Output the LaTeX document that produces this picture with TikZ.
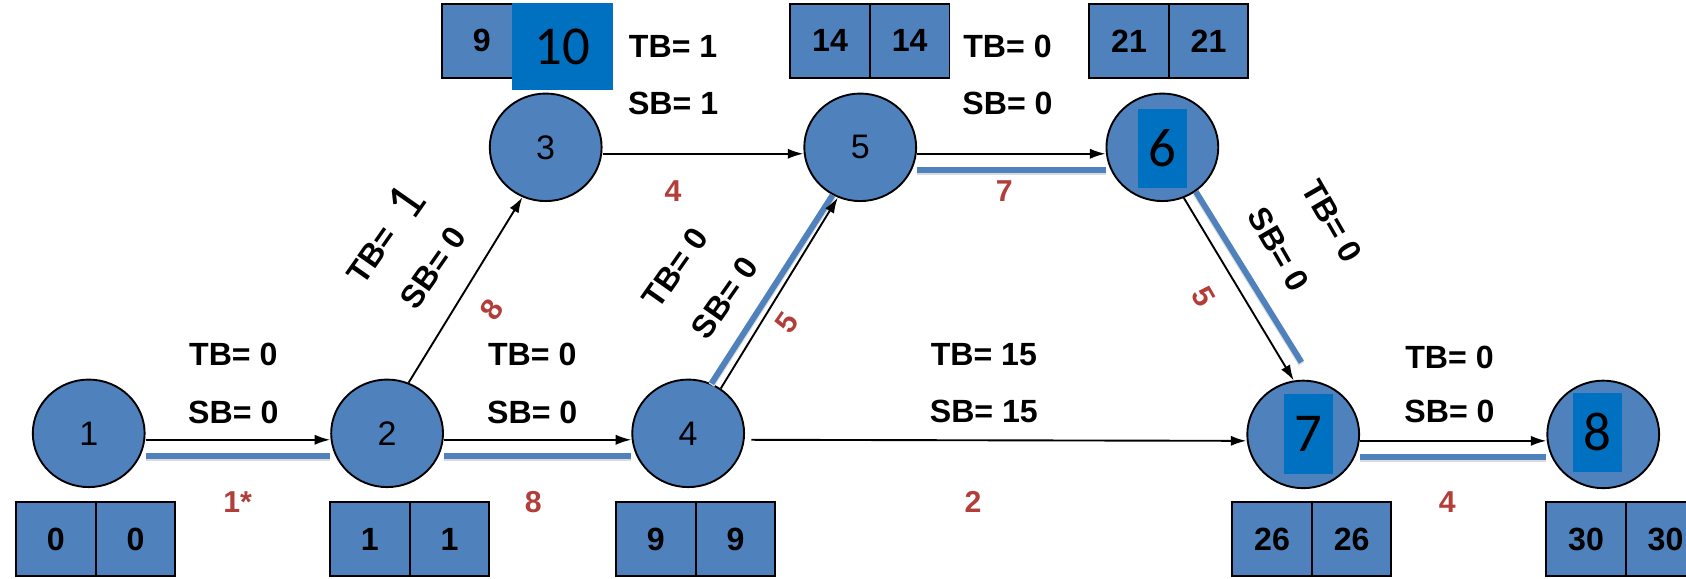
\documentclass[tikz,border=0pt]{standalone}
\usepackage{fontspec}
\setmainfont{Liberation Sans}
\newfontfamily\calibri{Carlito}
\usetikzlibrary{arrows.meta,positioning,shapes.geometric}
\definecolor{evtblue}{RGB}{79,129,189}
\definecolor{patchblue}{RGB}{0,112,192}
\definecolor{durred}{RGB}{178,62,58}

\tikzset{
  event/.style={ellipse, draw, fill=evtblue, minimum width=2.08cm, minimum height=2cm, inner sep=0pt, font=\fontsize{18}{20}\selectfont},
  cell/.style={rectangle, draw, fill=evtblue, minimum width=1.48cm, minimum height=1.38cm, inner sep=0pt, outer sep=0pt, font=\fontsize{17}{20}\selectfont\bfseries},
  slack/.style={inner sep=0pt, font=\fontsize{17}{20}\selectfont\bfseries},
  dur/.style={inner sep=0pt, text=durred, font=\fontsize{16}{18}\selectfont\bfseries},
  patch/.style={fill=patchblue, minimum width=0.92cm, minimum height=1.46cm, inner sep=0pt, font=\fontsize{29}{32}\selectfont\calibri},
  crit/.style={evtblue, line width=0.11cm, preaction={draw=black!14, line width=0.12cm, transform canvas={yshift=-0.03cm}}}
}

\begin{document}
\begin{tikzpicture}[line width=1pt, >={Latex[length=0.29cm,width=0.19cm]}]
\clip (0,0) rectangle (31.36,10.76);

% events
\node[event] (v1) at (1.65,2.70) {1};
\node[event] (v2) at (7.20,2.70) {2};
\node[event] (v3) at (10.15,8.02) {3};
\node[event] (v4) at (12.80,2.70) {4};
\node[event] (v5) at (16.00,8.02) {5};
\node[event] (v6) at (21.62,8.02) {};
\node[event] (v7) at (24.24,2.68) {};
\node[event] (v8) at (29.82,2.68) {};

% earliest / latest times
\node[cell] (e1) at (1.04,0.73) {0};
\node[cell, right=0pt of e1] (l1) {0};
\node[cell] (e2) at (6.88,0.73) {1};
\node[cell, right=0pt of e2] (l2) {1};
\node[cell] (e4) at (12.20,0.73) {9};
\node[cell, right=0pt of e4] (l4) {9};
\node[cell] (e7) at (23.66,0.73) {26};
\node[cell, right=0pt of e7] (l7) {26};
\node[cell] (e8) at (29.50,0.73) {30};
\node[cell, right=0pt of e8] (l8) {30};
\node[cell] (e3) at (8.96,10.00) {9};
\node[cell, right=0pt of e3] (l3) {};
\node[cell] (e5) at (15.44,10.00) {14};
\node[cell, right=0pt of e5] (l5) {14};
\node[cell] (e6) at (21.00,10.00) {21};
\node[cell, right=0pt of e6] (l6) {21};

% critical path
\draw[crit] ([yshift=-0.42cm]v1.east) -- ([yshift=-0.42cm]v2.west);
\draw[crit] ([yshift=-0.42cm]v2.east) -- ([yshift=-0.42cm]v4.west);
\draw[crit] (v4.65) -- (v5.240);
\draw[crit] ([yshift=-0.42cm]v5.east) -- ([yshift=-0.42cm]v6.west);
\draw[crit, shorten >=0.4cm] (v6.307) -- (v7.80);
\draw[crit] ([yshift=-0.42cm]v7.east) -- ([yshift=-0.42cm]v8.west);

% activities
\draw[->] ([yshift=-0.12cm]v1.east) -- ([yshift=-0.12cm]v2.west);
\draw[->] ([yshift=-0.12cm]v2.east) -- ([yshift=-0.12cm]v4.west);
\draw[->] (v2.67) -- (v3.245);
\draw[->] ([yshift=-0.12cm]v3.east) -- ([yshift=-0.12cm]v5.west);
\draw[->] (v4.54) -- (v5.246);
\draw[->, shorten <=0.12cm] ([yshift=-0.12cm]v4.east) -- ([yshift=-0.12cm]v7.west);
\draw[->] ([yshift=-0.12cm]v5.east) -- ([yshift=-0.12cm]v6.west);
\draw[->] (v6.293) -- (v7.100);
\draw[->] ([yshift=-0.12cm]v7.east) -- ([yshift=-0.12cm]v8.west);

% floats and durations
\node[slack] (tb12) at (4.34,4.16) {TB= 0};
\node[slack] (sb12) at (4.34,3.08) {SB= 0};
\node[dur] (d12) at (4.42,1.42) {1*};
\node[slack] (tb24) at (9.90,4.16) {TB= 0};
\node[slack] (sb24) at (9.90,3.08) {SB= 0};
\node[dur] (d24) at (9.92,1.42) {8};
\node[slack] (tb47) at (18.30,4.16) {TB= 15};
\node[slack] (sb47) at (18.30,3.10) {SB= 15};
\node[dur] (d47) at (18.10,1.42) {2};
\node[slack] (tb78) at (26.96,4.12) {TB= 0};
\node[slack] (sb78) at (26.96,3.10) {SB= 0};
\node[dur] (d78) at (26.92,1.42) {4};
\node[slack] (tb35) at (12.52,9.89) {TB= 1};
\node[slack] (sb35) at (12.52,8.84) {SB= 1};
\node[dur] (d35) at (12.52,7.20) {4};
\node[slack] (tb56) at (18.74,9.89) {TB= 0};
\node[slack] (sb56) at (18.74,8.84) {SB= 0};
\node[dur] (d56) at (18.68,7.20) {7};
\node[slack, rotate=55] (tb23) at (6.92,6.02) {TB=};
\node[slack, rotate=55] (sb23) at (8.06,5.78) {SB= 0};
\node[dur, rotate=55] (d23) at (9.14,5.00) {8};
\node[slack, rotate=55] (tb45) at (12.56,5.78) {TB= 0};
\node[slack, rotate=55] (sb45) at (13.48,5.22) {SB= 0};
\node[dur, rotate=55] (d45) at (14.64,4.76) {5};
\node[slack, rotate=-60] (tb67) at (24.78,6.64) {TB= 0};
\node[slack, rotate=-60] (sb67) at (23.78,6.12) {SB= 0};
\node[dur, rotate=-60] (d67) at (22.38,5.24) {5};

% corrected values
\node[patch, minimum width=1.88cm, minimum height=1.62cm] (p3) at (10.46,9.89) {10};
\node[patch] (p6) at (21.62,8.00) {6};
\node[patch, minimum height=1.5cm] (p7) at (24.34,2.69) {7};
\node[patch] (p8) at (29.71,2.72) {8};
\node[inner sep=0pt, rotate=55, font=\fontsize{29}{32}\selectfont\calibri] (p23) at (7.56,7.00) {1};
\end{tikzpicture}
\end{document}
